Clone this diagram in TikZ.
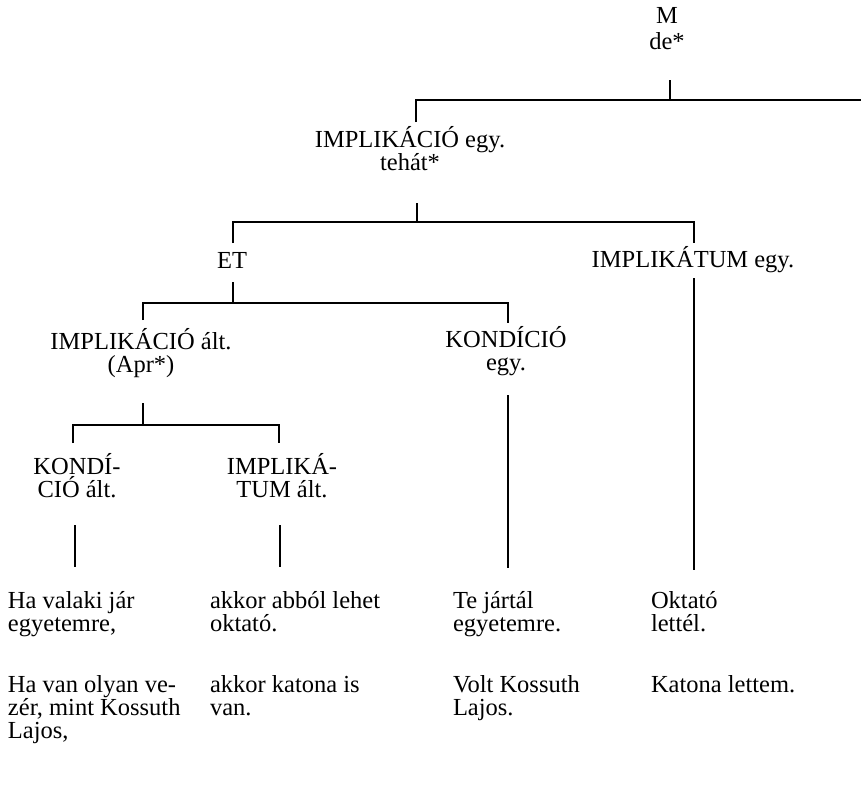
\documentclass[tikz,border=0pt]{standalone}
\usepackage{fontspec}
\setmainfont{Liberation Serif}
\usetikzlibrary{calc}
\begin{document}
\begin{tikzpicture}[x=1pt,y=-1pt,
  every node/.style={inner sep=0pt, outer sep=0pt, font=\fontsize{24.5}{23}\selectfont},
  lbl/.style={align=center, anchor=base},
  txt/.style={align=left, anchor=base west},
  conn/.style={line width=1.2pt}]
\useasboundingbox (0,0) rectangle (861,801);
% labels (anchor = baseline of last line)
\node[lbl] (M)   at (667,49)  {M\\[3pt]de*};
\node[lbl] (IE)  at (410,170) {IMPLIKÁCIÓ egy.\\tehát*};
\node[lbl] (ET)  at (232,268) {ET};
\node[lbl] (IT)  at (693,267) {IMPLIKÁTUM egy.};
\node[lbl] (IA)  at (141,372) {IMPLIKÁCIÓ ált.\\(Apr*)};
\node[lbl] (KE)  at (506,370) {KONDÍCIÓ\\egy.};
\node[lbl] (KA)  at (77,497)  {KONDÍ-\\CIÓ ált.};
\node[lbl] (ITA) at (282,497) {IMPLIKÁ-\\TUM ált.};
% sentences
\node[txt] (r1a) at (8,631)   {Ha valaki jár\\egyetemre,};
\node[txt] (r1b) at (210,631) {akkor abból lehet\\oktató.};
\node[txt] (r1c) at (453,631) {Te jártál\\egyetemre.};
\node[txt] (r1d) at (651,631) {Oktató\\lettél.};
\node[txt] (r2a) at (8,738)   {Ha van olyan ve-\\zér, mint Kossuth\\Lajos,};
\node[txt] (r2b) at (210,715) {akkor katona is\\van.};
\node[txt] (r2c) at (453,715) {Volt Kossuth\\Lajos.};
\node[txt] (r2d) at (651,692) {Katona lettem.};
% level coordinates
\coordinate (s1) at (0,80);  \coordinate (b1) at (0,100); \coordinate (d1) at (0,122);
\coordinate (Rend) at (861,100);
\coordinate (s2) at (0,203); \coordinate (b2) at (0,222); \coordinate (d2) at (0,243);
\coordinate (s3) at (0,282); \coordinate (b3) at (0,303); \coordinate (d3) at (0,320); \coordinate (d3b) at (0,323);
\coordinate (s4) at (0,403); \coordinate (b4) at (0,425); \coordinate (d4) at (0,443);
\coordinate (s5) at (0,525); \coordinate (e5) at (0,567);
\coordinate (s6) at (0,395); \coordinate (e6) at (0,568);
\coordinate (sIT) at (0,278); \coordinate (eIT) at (0,570);
% connectors
\draw[conn] ($(M.south |- s1)+(3,0)$) -- ($(M.south |- b1)+(3,0)$);
\draw[conn] ($(IE.north |- d1)+(6,0)$) |- (Rend);
\draw[conn] ($(IE.south |- s2)+(7,0)$) -- ($(IE.south |- b2)+(7,0)$);
\draw[conn] ($(ET.north |- d2)+(1,0)$) |- ($(IT.north |- b2)+(1,0)$) -- ($(IT.north |- d2)+(1,0)$);
\draw[conn] ($(ET.south |- s3)+(1,0)$) -- ($(ET.south |- b3)+(1,0)$);
\draw[conn] ($(IA.north |- d3)+(2,0)$) |- ($(KE.north |- b3)+(2,0)$) -- ($(KE.north |- d3b)+(2,0)$);
\draw[conn] ($(IT.south |- sIT)+(1,0)$) -- ($(IT.south |- eIT)+(1,0)$);
\draw[conn] ($(IA.south |- s4)+(2,0)$) -- ($(IA.south |- b4)+(2,0)$);
\draw[conn] ($(KE.south |- s6)+(2,0)$) -- ($(KE.south |- e6)+(2,0)$);
\draw[conn] ($(KA.north |- d4)+(-4,0)$) |- ($(ITA.north |- b4)+(-3,0)$) -- ($(ITA.north |- d4)+(-3,0)$);
\draw[conn] ($(KA.south |- s5)+(-2,0)$) -- ($(KA.south |- e5)+(-2,0)$);
\draw[conn] ($(ITA.south |- s5)+(-2,0)$) -- ($(ITA.south |- e5)+(-2,0)$);
\end{tikzpicture}
\end{document}
